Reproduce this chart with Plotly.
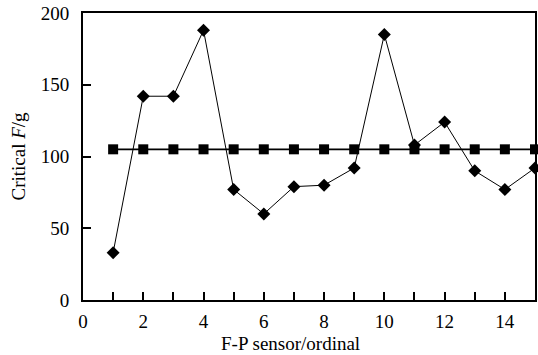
import plotly.graph_objects as go

sensor = list(range(1, 16))
critical_f = [33, 142, 142, 188, 77, 60, 79, 80, 92, 185, 108, 124, 90, 77, 92]
mean_f = [105] * 15

x_tickvals = list(range(0, 16))
x_ticktext = [str(v) if v % 2 == 0 and v < 15 else "" for v in x_tickvals]
y_tickvals = [0, 50, 100, 150, 200]

FONT = "Liberation Serif, Times New Roman, serif"

fig = go.Figure()
fig.add_trace(go.Scatter(
    x=sensor, y=mean_f, mode="lines+markers",
    line=dict(color="black", width=1.8),
    marker=dict(symbol="square", size=10, color="black"),
    cliponaxis=False, showlegend=False))
fig.add_trace(go.Scatter(
    x=sensor, y=critical_f, mode="lines+markers",
    line=dict(color="black", width=1),
    marker=dict(symbol="diamond", size=10, color="black"),
    cliponaxis=False, showlegend=False))

fig.update_layout(
    width=538, height=355,
    margin=dict(l=83, r=1, t=13, b=55),
    paper_bgcolor="white", plot_bgcolor="white",
    font=dict(family=FONT, size=19, color="black"),
    xaxis=dict(range=[0, 15], tickmode="array", tickvals=x_tickvals, ticktext=x_ticktext,
               ticks="inside", ticklen=8, tickwidth=1.5, tickcolor="black",
               showline=True, linecolor="black", linewidth=2, mirror=True,
               showgrid=False, zeroline=False, tickfont=dict(size=19),
               ticklabelstandoff=3, ticklabeloverflow="allow"),
    yaxis=dict(range=[0, 200], tickmode="array", tickvals=y_tickvals,
               ticks="inside", ticklen=8, tickwidth=1.5, tickcolor="black",
               showline=True, linecolor="black", linewidth=2, mirror=True,
               showgrid=False, zeroline=False, tickfont=dict(size=19),
               ticklabelstandoff=8, ticklabeloverflow="allow"),
    annotations=[
        dict(text="F-P sensor/ordinal", xref="paper", yref="paper", x=0.46, y=0,
             yshift=-31, xanchor="center", yanchor="top", showarrow=False,
             font=dict(size=19)),
        dict(text="Critical <i>F</i>/g", xref="paper", yref="paper", x=0, y=0.5,
             xshift=-65, xanchor="center", yanchor="middle", textangle=-90,
             showarrow=False, font=dict(size=19)),
    ],
)

fig.write_html("out.html", config={"displayModeBar": False},
               post_script="document.body.style.margin='0';document.body.style.overflow='hidden';")
